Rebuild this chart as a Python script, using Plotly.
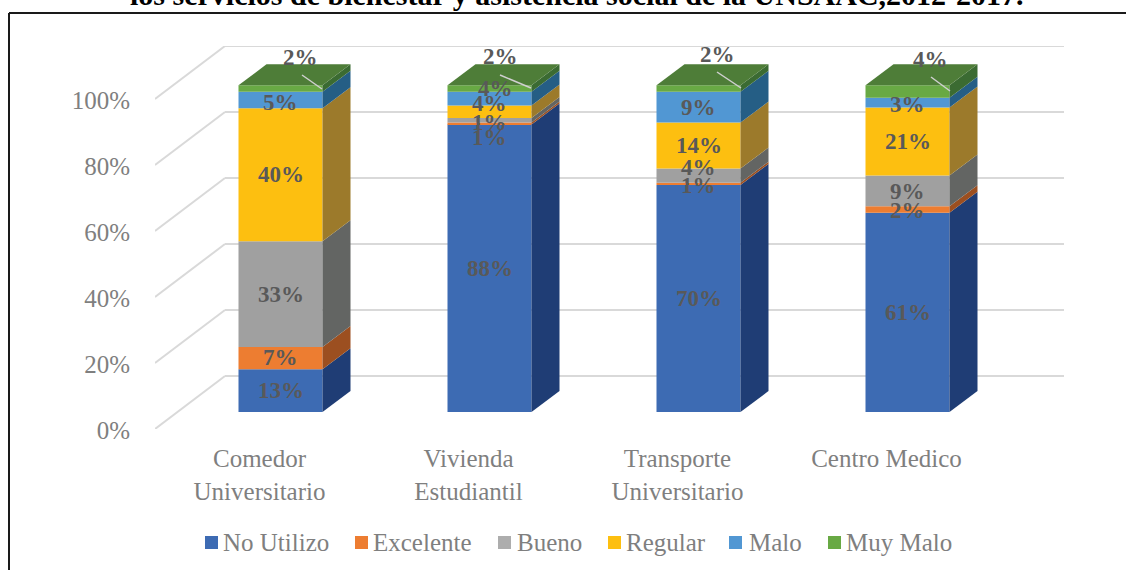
import plotly.graph_objects as go

categories = ["Comedor<br>Universitario", "Vivienda<br>Estudiantil", "Transporte<br>Universitario", "Centro Medico"]
series_names = ["No Utilizo", "Excelente", "Bueno", "Regular", "Malo", "Muy Malo"]
no_utilizo = [13.1, 88.0, 69.5, 61.0]
excelente = [6.8, 0.6, 0.7, 2.0]
bueno = [32.4, 1.4, 4.3, 9.4]
regular = [40.7, 3.8, 14.1, 20.8]
malo = [5.0, 4.2, 9.4, 3.0]
muy_malo = [2.0, 2.0, 2.0, 3.8]
label_no_utilizo = ["13%", "88%", "70%", "61%"]
label_excelente = ["7%", "1%", "1%", "2%"]
label_bueno = ["33%", "1%", "4%", "9%"]
label_regular = ["40%", "4%", "14%", "21%"]
label_malo = ["5%", "4%", "9%", "3%"]
label_muy_malo = ["2%", "2%", "2%", "4%"]
y_ticks = [0, 20, 40, 60, 80, 100]
title_text = "los servicios de bienestar y asistencia social de la UNSAAC,2012-2017."

series = [no_utilizo, excelente, bueno, regular, malo, muy_malo]
labels = [label_no_utilizo, label_excelente, label_bueno, label_regular, label_malo, label_muy_malo]
front_colors = ["#3d6bb3", "#ed7d31", "#a0a0a0", "#fdbf10", "#5197d3", "#68a944"]
swatch_colors = ["#3d6bb3", "#ed7d31", "#adadad", "#fdbf10", "#5197d3", "#68a944"]
side_colors = ["#1f3d75", "#9c4f20", "#636563", "#9c7a2b", "#255e85", "#3b6b32"]
top_color = "#4e7d38"
grid_color = "#d9d9d9"
FONT = "Liberation Serif"

# geometry (pixels -> axis units)
W, H = 1126, 570
L, R, T, B = 155, 62, 46, 141
PX_X = 209.0
PX_Y = 3.3
x_range = [-0.5, -0.5 + (W - L - R) / PX_X]
y_range = [0, (H - T - B) / PX_Y]
wall_dx = 70 / PX_X
wall_dy = 53 / PX_Y
bar_width = 84 / PX_X
bar_shift = 21 / PX_X
bar_base = 17 / PX_Y
bar_dx = 28 / PX_X
bar_dy = 21 / PX_Y
bar_scale = 0.99

fig = go.Figure()
n = len(categories)
bottoms = [0.0] * n
segments = []
for s, vals in enumerate(series):
    base = [bar_base + b * bar_scale for b in bottoms]
    h = [v * bar_scale for v in vals]
    fig.add_trace(go.Bar(
        x=[i + bar_shift for i in range(n)], y=h, base=base, width=bar_width,
        name=series_names[s], marker=dict(color=front_colors[s], line=dict(width=0)),
        hoverinfo="skip", showlegend=False,
    ))
    segments.append((base, h))
    bottoms = [b + v for b, v in zip(bottoms, vals)]

# side and top faces
for s, (base, h) in enumerate(segments):
    for i in range(n):
        xr = i + bar_shift + bar_width / 2
        y0, y1 = base[i], base[i] + h[i]
        fig.add_trace(go.Scatter(
            x=[xr, xr + bar_dx, xr + bar_dx, xr, xr],
            y=[y0, y0 + bar_dy, y1 + bar_dy, y1, y0],
            mode="lines", line=dict(width=0), fill="toself", fillcolor=side_colors[s],
            showlegend=False, hoverinfo="skip",
        ))
for i in range(n):
    xl = i + bar_shift - bar_width / 2
    xr = xl + bar_width
    yt = segments[-1][0][i] + segments[-1][1][i]
    fig.add_trace(go.Scatter(
        x=[xl, xr, xr + bar_dx, xl + bar_dx, xl],
        y=[yt, yt, yt + bar_dy, yt + bar_dy, yt],
        mode="lines", line=dict(width=0), fill="toself", fillcolor=top_color,
        showlegend=False, hoverinfo="skip",
    ))

# wall / floor gridlines
shapes = []
for t in y_ticks:
    shapes.append(dict(type="line", xref="x", yref="y", layer="below",
                       x0=x_range[0], y0=t, x1=x_range[0] + wall_dx, y1=t + wall_dy,
                       line=dict(color=grid_color, width=2)))
    shapes.append(dict(type="line", xref="x", yref="y", layer="below",
                       x0=x_range[0] + wall_dx, y0=t + wall_dy, x1=x_range[1], y1=t + wall_dy,
                       line=dict(color=grid_color, width=2)))
# frame of the pasted picture
frame = dict(color="#1a1a1a", width=2)
px = lambda v: (v - L) / (W - L - R)
py = lambda v: (H - B - v) / (H - T - B)
shapes.append(dict(type="line", xref="paper", yref="paper", x0=px(9), x1=px(1127), y0=py(13), y1=py(13), line=frame))
shapes.append(dict(type="line", xref="paper", yref="paper", x0=px(9), x1=px(9), y0=py(13), y1=py(571), line=frame))

# data labels: pixel nudges from the segment centres
nudges = {(5, 0): (20, -31), (5, 1): (11, -32), (5, 2): (19, -34), (5, 3): (23, -32),
          (4, 0): (0, 2), (4, 1): (6, -10), (3, 1): (0, -8), (2, 1): (0, 2), (1, 1): (0, 14),
          (2, 2): (0, -8), (1, 2): (0, 2), (4, 3): (0, 2), (2, 3): (0, 1), (1, 3): (0, 1),
          (1, 0): (0, -1)}
leaders = {0: (302, 75, 322, 89), 1: (500, 75, 531, 88), 2: (717, 72, 741, 88), 3: (931, 77, 950, 91)}
annotations = []
for s, (base, h) in enumerate(segments):
    for i in range(n):
        dx, dy = nudges.get((s, i), (0, 0))
        annotations.append(dict(
            x=i + bar_shift, y=base[i] + h[i] / 2, xref="x", yref="y", text="<b>%s</b>" % labels[s][i],
            showarrow=False, xshift=dx, yshift=-dy, font=dict(family=FONT, size=23, color="#595959"),
            xanchor="center", yanchor="middle",
        ))
for i, (x0, y0, x1, y1) in leaders.items():
    fig.add_trace(go.Scatter(
        x=[-0.5 + (x0 - L) / PX_X, -0.5 + (x1 - L) / PX_X],
        y=[(H - B - y0) / PX_Y, (H - B - y1) / PX_Y],
        mode="lines", line=dict(color="#d0d0d0", width=1.5), showlegend=False, hoverinfo="skip",
    ))
annotations.append(dict(
    xref="paper", yref="paper", x=px(577), y=py(-5), text="<b>%s</b>" % title_text,
    showarrow=False, xanchor="center", yanchor="middle",
    font=dict(family=FONT, size=30, color="#000000"),
))

# legend row
legend_swatch_left = [205, 355, 498, 608, 729, 828]
legend_text_left = [223, 373, 517, 626, 749, 846]
for s, name in enumerate(series_names):
    shapes.append(dict(type="rect", xref="paper", yref="paper",
                       x0=px(legend_swatch_left[s]), x1=px(legend_swatch_left[s] + 13),
                       y0=py(536), y1=py(549), line=dict(width=0), fillcolor=swatch_colors[s]))
    annotations.append(dict(xref="paper", yref="paper", x=px(legend_text_left[s]), y=py(542), text=name,
                            showarrow=False, xanchor="left", yanchor="middle", borderpad=0, borderwidth=0,
                            font=dict(family=FONT, size=25, color="#7f7f7f")))

fig.update_layout(
    width=W, height=H, margin=dict(l=L, r=R, t=T, b=B, pad=0, autoexpand=False),
    paper_bgcolor="#ffffff", plot_bgcolor="rgba(0,0,0,0)",
    barmode="overlay", shapes=shapes, annotations=annotations,
    font=dict(family=FONT, size=25, color="#7f7f7f"),
    xaxis=dict(range=x_range, tickvals=list(range(n)), ticktext=categories, showgrid=False,
               zeroline=False, showline=False, ticks="", ticklabelstandoff=12, fixedrange=True,
               tickfont=dict(family=FONT, size=25, color="#7f7f7f")),
    yaxis=dict(range=y_range, tickvals=y_ticks, ticktext=["%d%%" % t for t in y_ticks], showgrid=False,
               zeroline=False, showline=False, ticks="", ticklabelstandoff=24, ticklabelshift=1, fixedrange=True,
               tickfont=dict(family=FONT, size=25, color="#7f7f7f")),
    showlegend=False,
)
fig.write_html("out.html", config={"displayModeBar": False}, post_script="document.body.style.margin='0';")
